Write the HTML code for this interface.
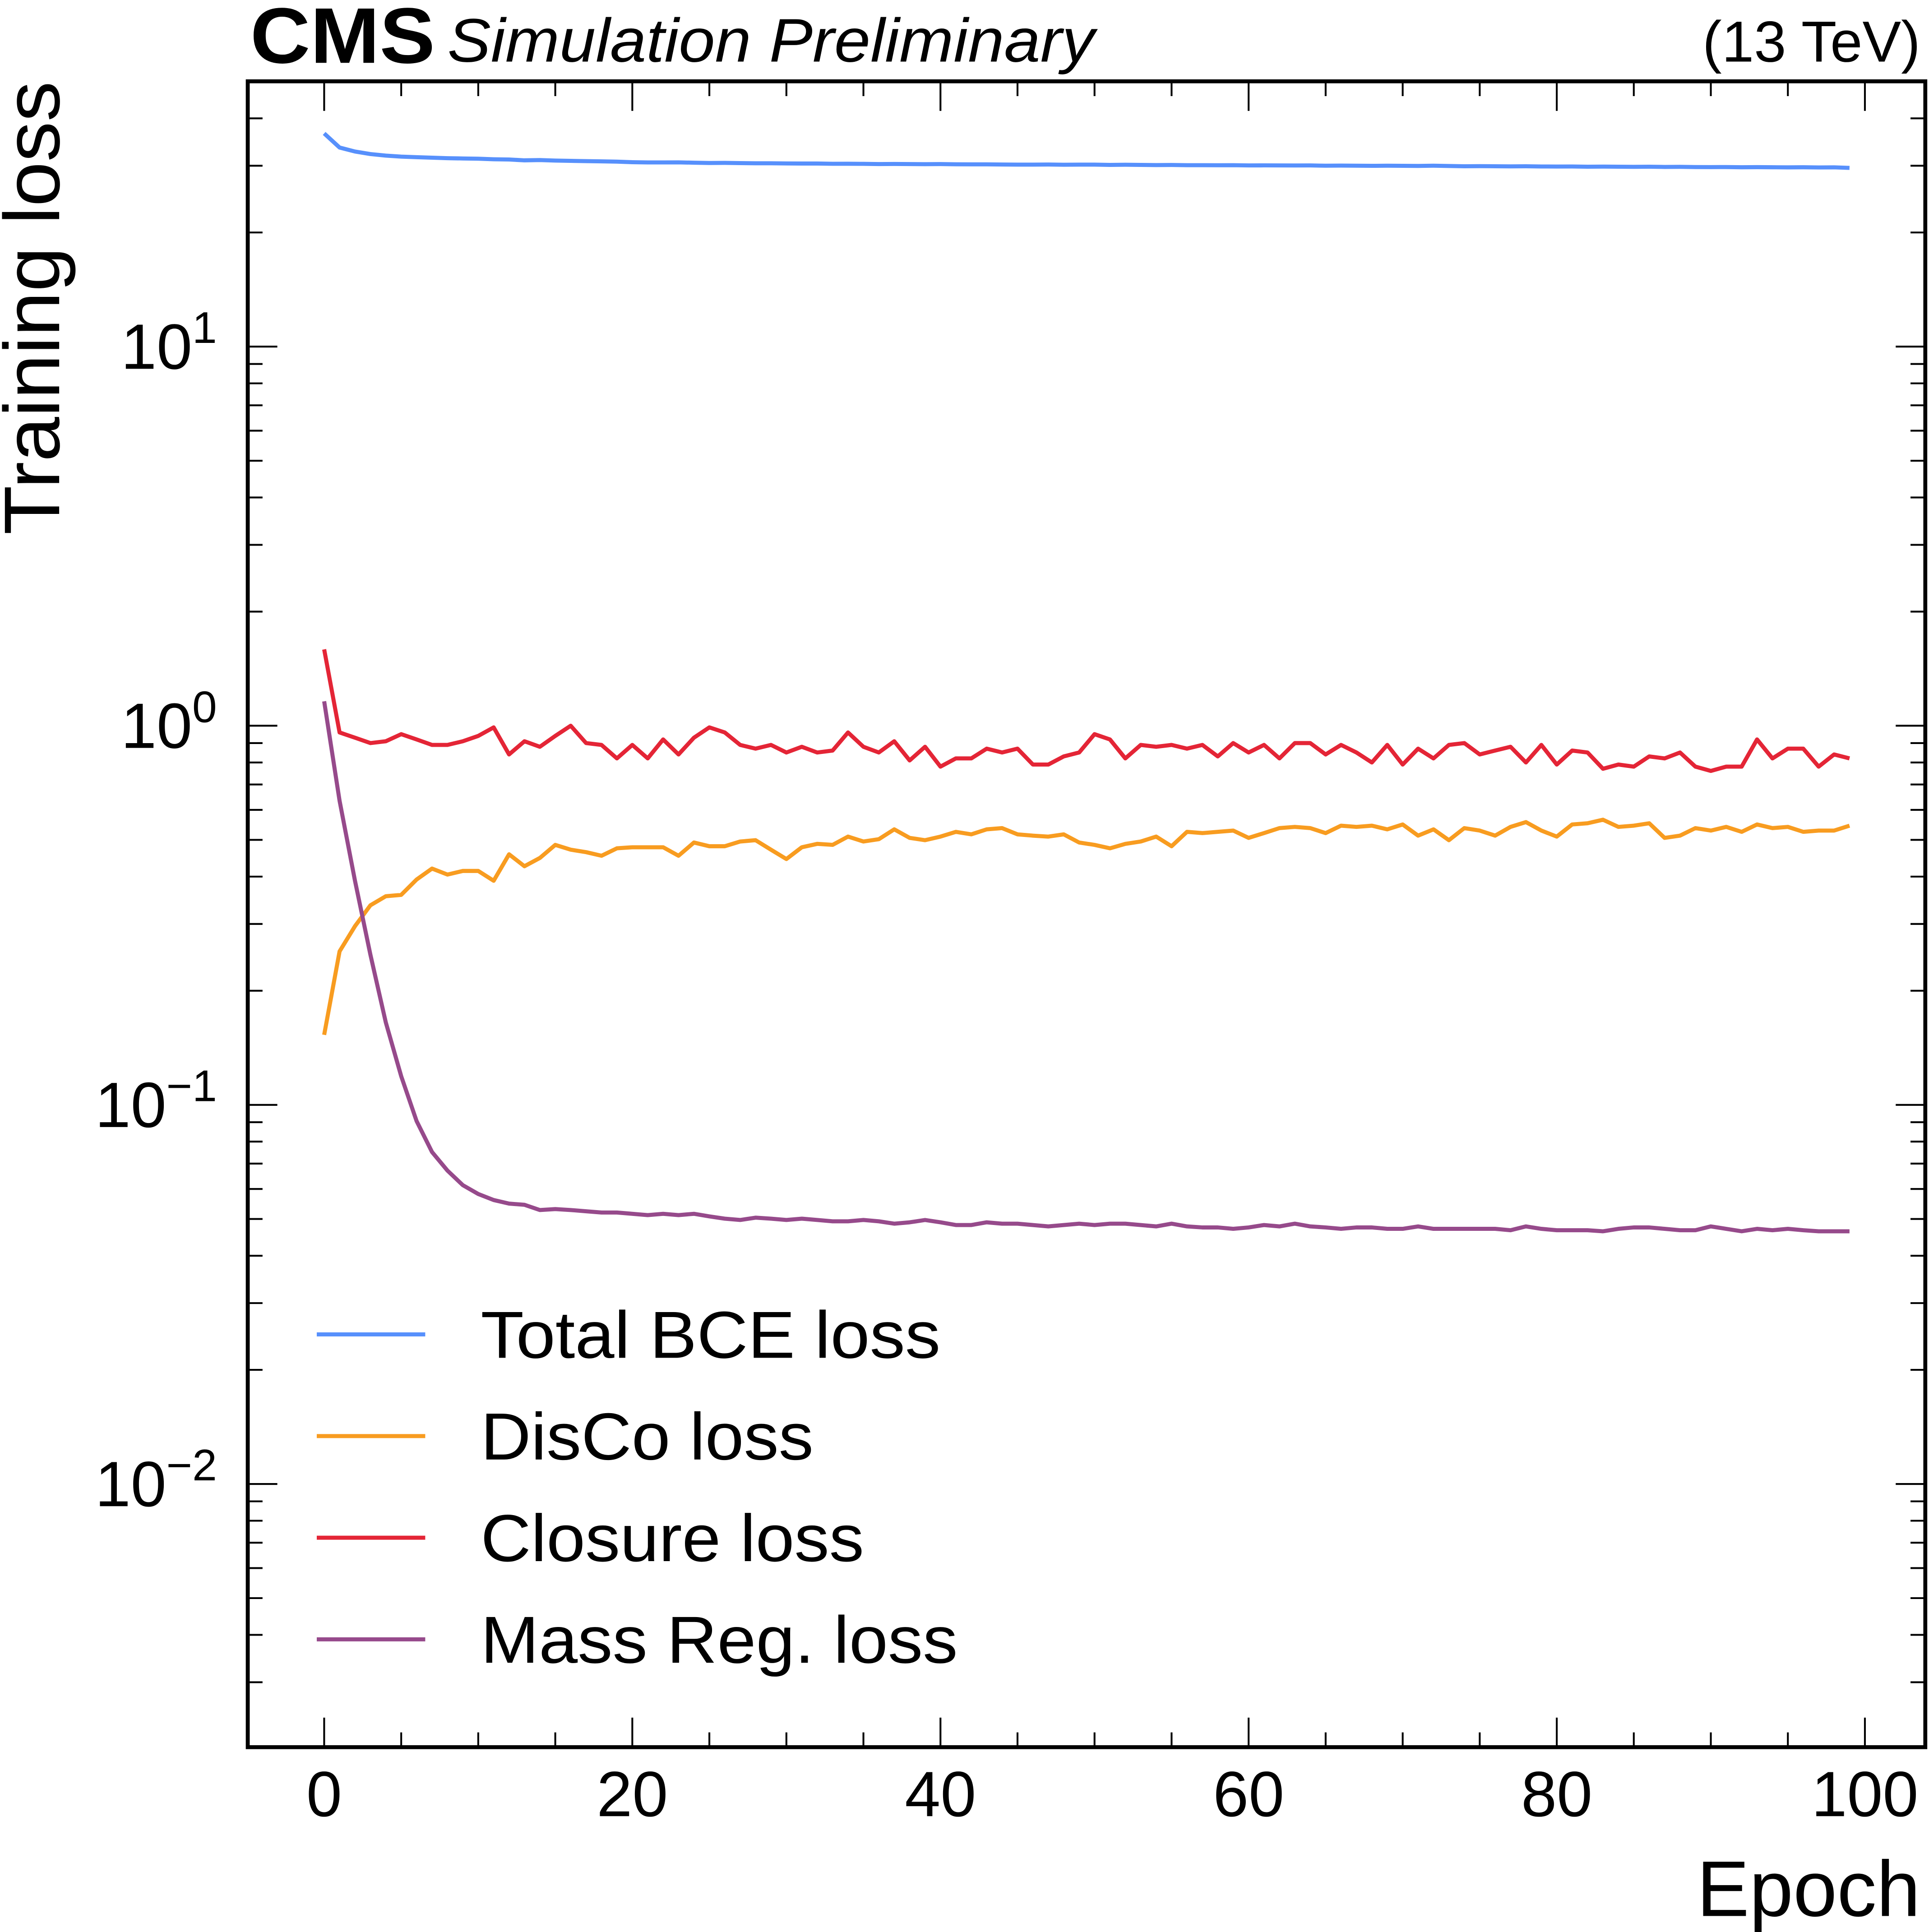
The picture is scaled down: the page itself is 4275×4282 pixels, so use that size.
<!DOCTYPE html>
<html><head><meta charset="utf-8"><style>
html,body{margin:0;padding:0;background:#fff;}
svg{display:block;}
text{font-family:"Liberation Sans",sans-serif;fill:#000;}
</style></head><body>
<svg id="chart" xmlns="http://www.w3.org/2000/svg" width="4275" height="4282" viewBox="0 0 1565 1568" preserveAspectRatio="none">
<rect x="0" y="0" width="1565" height="1568" fill="#fff"/>
<g id="marks"></g>
<g id="ticks"></g>
<rect x="201" y="66" width="1361" height="1352" fill="none" stroke="#000" stroke-width="3.2"/>
<text x="203" y="51" font-size="64" font-weight="bold" textLength="150" lengthAdjust="spacingAndGlyphs">CMS</text>
<text x="363" y="50" font-size="50" font-style="italic" textLength="525" lengthAdjust="spacingAndGlyphs">Simulation Preliminary</text>
<text x="1558" y="50" font-size="47" text-anchor="end">(13 TeV)</text>
<text transform="translate(48,434) rotate(-90)" font-size="64" textLength="368" lengthAdjust="spacingAndGlyphs">Training loss</text>
<text x="1558" y="1555" font-size="64" text-anchor="end">Epoch</text>
<g id="legend"></g>
</svg>
<script>
const epochs = Array.from({length:100},(_, i)=>i);
const bceLoss = [36.5,33.5,32.7,32.2,31.9,31.7,31.6,31.5,31.4,31.35,31.3,31.2,31.15,31.0,31.05,30.95,30.9,30.85,30.8,30.75,30.65,30.6,30.6,30.62,30.55,30.5,30.52,30.48,30.45,30.45,30.42,30.4,30.4,30.35,30.36,30.34,30.3,30.32,30.3,30.28,30.3,30.26,30.25,30.25,30.22,30.2,30.2,30.22,30.18,30.2,30.2,30.15,30.18,30.15,30.12,30.14,30.1,30.1,30.08,30.1,30.05,30.06,30.05,30.04,30.05,30.0,30.02,30.0,29.98,30.0,29.98,29.96,30.0,29.95,29.9,29.92,29.9,29.88,29.9,29.86,29.85,29.86,29.82,29.84,29.82,29.8,29.82,29.78,29.8,29.76,29.75,29.76,29.72,29.74,29.72,29.7,29.72,29.68,29.7,29.6];
const discoLoss = [0.153,0.254,0.296,0.336,0.355,0.358,0.393,0.42,0.405,0.414,0.414,0.39,0.458,0.426,0.448,0.485,0.471,0.464,0.454,0.475,0.478,0.478,0.478,0.454,0.492,0.481,0.481,0.495,0.499,0.471,0.445,0.478,0.488,0.485,0.51,0.495,0.502,0.533,0.506,0.499,0.51,0.525,0.517,0.533,0.537,0.517,0.513,0.51,0.517,0.492,0.485,0.475,0.488,0.495,0.51,0.481,0.525,0.521,0.525,0.529,0.506,0.521,0.537,0.541,0.537,0.521,0.545,0.541,0.545,0.533,0.549,0.513,0.533,0.499,0.537,0.529,0.513,0.541,0.557,0.529,0.51,0.549,0.553,0.565,0.541,0.545,0.553,0.506,0.513,0.537,0.529,0.541,0.525,0.549,0.537,0.541,0.525,0.529,0.529,0.545];
const closureLoss = [1.59,0.96,0.93,0.90,0.91,0.95,0.92,0.89,0.89,0.91,0.94,0.99,0.84,0.91,0.88,0.94,1.0,0.90,0.89,0.82,0.89,0.82,0.92,0.84,0.93,0.99,0.96,0.89,0.87,0.89,0.85,0.88,0.85,0.86,0.96,0.88,0.85,0.91,0.81,0.88,0.78,0.82,0.82,0.87,0.85,0.87,0.79,0.79,0.83,0.85,0.95,0.92,0.82,0.89,0.88,0.89,0.87,0.89,0.83,0.90,0.85,0.89,0.82,0.90,0.90,0.84,0.89,0.85,0.80,0.89,0.79,0.87,0.82,0.89,0.90,0.84,0.86,0.88,0.80,0.89,0.79,0.86,0.85,0.77,0.79,0.78,0.83,0.82,0.85,0.78,0.76,0.78,0.78,0.92,0.82,0.87,0.87,0.78,0.84,0.82];
const massRegLoss = [1.16,0.634,0.39,0.249,0.165,0.119,0.0906,0.0751,0.0671,0.0614,0.0582,0.0561,0.0549,0.0545,0.0528,0.0531,0.0528,0.0524,0.052,0.052,0.0516,0.0512,0.0516,0.0512,0.0516,0.0508,0.0501,0.0497,0.0504,0.0501,0.0497,0.0501,0.0497,0.0493,0.0493,0.0497,0.0493,0.0486,0.049,0.0497,0.049,0.0482,0.0482,0.049,0.0486,0.0486,0.0482,0.0478,0.0482,0.0486,0.0482,0.0486,0.0486,0.0482,0.0478,0.0486,0.0478,0.0475,0.0475,0.0471,0.0475,0.0482,0.0478,0.0486,0.0478,0.0475,0.0471,0.0475,0.0475,0.0471,0.0471,0.0478,0.0471,0.0471,0.0471,0.0471,0.0471,0.0467,0.0478,0.0471,0.0467,0.0467,0.0467,0.0464,0.0471,0.0475,0.0475,0.0471,0.0467,0.0467,0.0478,0.0471,0.0464,0.0471,0.0467,0.0471,0.0467,0.0464,0.0464,0.0464];
const seriesNames = ["Total BCE loss","DisCo loss","Closure loss","Mass Reg. loss"];
const seriesColors = ["#5790fc","#f89c20","#e42536","#964a8b"];
const xTickLabels = [0,20,40,60,80,100];
const yTickExps = [-2,-1,0,1];

const NS="http://www.w3.org/2000/svg";
const L=201,R=1562,T=66,B=1418;
function xs(e){return 263+(e/100)*1250;}
function ys(v){return 589-Math.log10(v)*307.7;}
function mk(tag,attrs,parent){const el=document.createElementNS(NS,tag);for(const k in attrs)el.setAttribute(k,attrs[k]);parent.appendChild(el);return el;}
const marks=document.getElementById('marks');
const ticks=document.getElementById('ticks');
const legend=document.getElementById('legend');
const allSeries=[bceLoss,discoLoss,closureLoss,massRegLoss];
const keys=['total-bce','disco','closure','mass-reg'];
const legendWidths=[373,270,311,387];
allSeries.forEach((s,k)=>{
  const d=s.map((v,i)=>(i?'L':'M')+xs(epochs[i]).toFixed(2)+','+ys(v).toFixed(2)).join(' ');
  const p=mk('path',{d:d,fill:'none',stroke:seriesColors[k],'stroke-width':3.3,'stroke-linejoin':'round'},marks);
  
  
  const ly=1083+k*82.5;
  const ll=mk('line',{x1:257,x2:345,y1:ly,y2:ly,stroke:seriesColors[k],'stroke-width':3.3},legend);
  
  
  const lt=mk('text',{x:390,y:ly+19,'font-size':54,textLength:legendWidths[k],lengthAdjust:'spacingAndGlyphs'},legend);
  lt.textContent=seriesNames[k];
  
  
});
for(let e=0;e<=100;e+=5){
  const x=xs(e);const len=(e%20===0)?24:12;
  mk('line',{x1:x,x2:x,y1:B,y2:B-len,stroke:'#000','stroke-width':1.5},ticks);
  mk('line',{x1:x,x2:x,y1:T,y2:T+len,stroke:'#000','stroke-width':1.5},ticks);
}
xTickLabels.forEach(v=>{
  const t=mk('text',{x:xs(v),y:1474,'font-size':52,'text-anchor':'middle'},ticks);
  t.textContent=String(v);
  
  
});
for(let p=-3;p<=1;p++){
  for(let m=1;m<=9;m++){
    const v=m*Math.pow(10,p);const y=ys(v);
    if(y<T+1||y>B-1)continue;
    const len=m===1?24:12;
    mk('line',{x1:L,x2:L+len,y1:y,y2:y,stroke:'#000','stroke-width':1.5},ticks);
    mk('line',{x1:R,x2:R-len,y1:y,y2:y,stroke:'#000','stroke-width':1.5},ticks);
  }
}
yTickExps.forEach(p=>{
  const y=ys(Math.pow(10,p));
  const t=mk('text',{x:176,y:y+18,'font-size':52,'text-anchor':'end'},ticks);
  
  
  const base=document.createElementNS(NS,'tspan');base.textContent='10';t.appendChild(base);
  const sup=document.createElementNS(NS,'tspan');sup.setAttribute('dy','-21');sup.setAttribute('font-size','36');
  sup.textContent=p<0?('\u2212'+(-p)):String(p);t.appendChild(sup);
});
</script>
</body></html>
